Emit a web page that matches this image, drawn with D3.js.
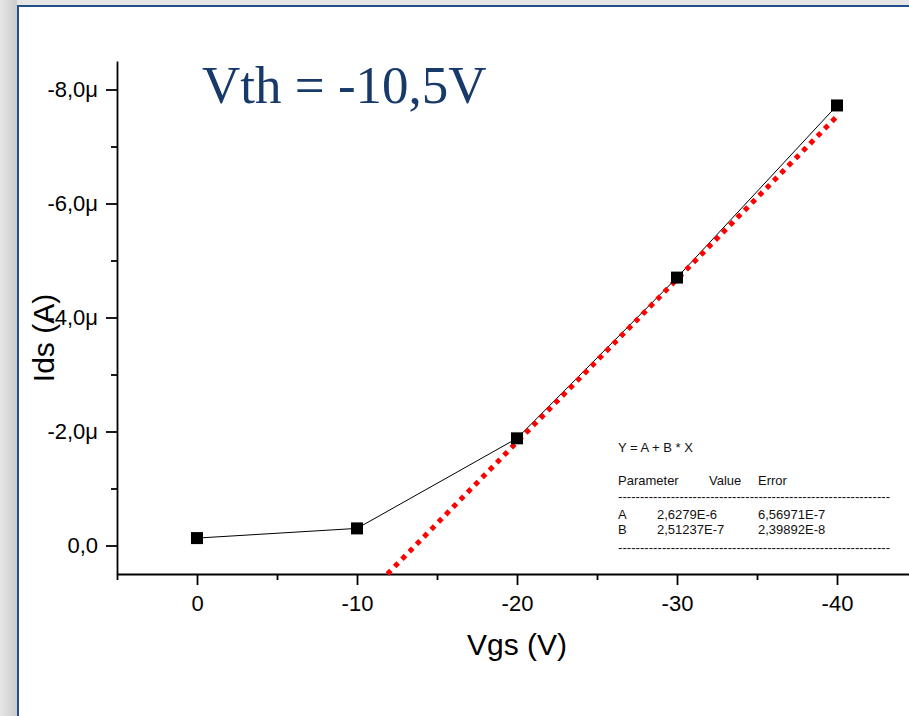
<!DOCTYPE html>
<html>
<head>
<meta charset="utf-8">
<script src="https://cdn.jsdelivr.net/npm/d3@7"></script>
<style>
body{margin:0;padding:0;overflow:hidden;background:#fff;}
</style>
</head>
<body>
<div id="chart"></div>
<script>
// mesures Ids(Vgs)
var vgs = [0, -10, -20, -30, -40];
var ids = [-0.13e-6, -0.30e-6, -1.88e-6, -4.70e-6, -7.72e-6];
// droite de fit (pointillés rouges)
var fitVgs = [-11.9, -40];
var fitIds = [0.5e-6, -7.53e-6];
// axes
var xTicks = [0, -10, -20, -30, -40];
var xMinor = [5, -5, -15, -25, -35, -45];
var yTicks = [0, -2e-6, -4e-6, -6e-6, -8e-6];
var yTickLabels = ["0,0", "-2,0\u03bc", "-4,0\u03bc", "-6,0\u03bc", "-8,0\u03bc"];
var yMinor = [-1e-6, -3e-6, -5e-6, -7e-6];
// tableau du fit
var fitEquation = "Y = A + B * X";
var fitHeader = ["Parameter", "Value", "Error"];
var fitRows = [["A", "2,6279E-6", "6,56971E-7"], ["B", "2,51237E-7", "2,39892E-8"]];
var title = "Vth = -10,5V";

var W = 909, H = 716;

var svg = d3.select("#chart").append("svg")
    .attr("width", W).attr("height", H)
    .style("display", "block");

// cadre type diapo
var defs = svg.append("defs");
var gl = defs.append("linearGradient").attr("id", "gleft").attr("x1", 0).attr("x2", 1).attr("y1", 0).attr("y2", 0);
gl.append("stop").attr("offset", 0).attr("stop-color", "#e6e6e6");
gl.append("stop").attr("offset", 1).attr("stop-color", "#cbcbcb");

svg.append("rect").attr("x", 0).attr("y", 0).attr("width", W).attr("height", H).attr("fill", "#e6e6e6");
svg.append("rect").attr("x", 0).attr("y", 0).attr("width", 17).attr("height", H).attr("fill", "url(#gleft)");
svg.append("rect").attr("x", 17).attr("y", 5).attr("width", W).attr("height", H).attr("fill", "#22508c");
svg.append("rect").attr("x", 19).attr("y", 7).attr("width", W).attr("height", H).attr("fill", "#ffffff");

var x = d3.scaleLinear().domain([5, -45]).range([117, 917]);
var y = d3.scaleLinear().domain([0.5e-6, -8.5e-6]).range([574, 61]);

var font = "Arial, 'Liberation Sans', sans-serif";

// axe x
svg.append("g").attr("transform", "translate(0," + y.range()[0] + ")")
    .call(d3.axisBottom(x).tickValues(xTicks).tickSize(11).tickSizeOuter(0).tickPadding(10)
        .tickFormat(function(d) { return String(d); }));
svg.append("g").attr("transform", "translate(0," + y.range()[0] + ")")
    .call(d3.axisBottom(x).tickValues(xMinor).tickSize(6).tickFormat(""))
    .call(function(g) { g.select(".domain").remove(); });

// axe y
svg.append("g").attr("transform", "translate(" + x.range()[0] + ",0)")
    .call(d3.axisLeft(y).tickValues(yTicks).tickSize(11).tickSizeOuter(0).tickPadding(8)
        .tickFormat(function(d, i) { return yTickLabels[i]; }));
svg.append("g").attr("transform", "translate(" + x.range()[0] + ",0)")
    .call(d3.axisLeft(y).tickValues(yMinor).tickSize(6).tickFormat(""))
    .call(function(g) { g.select(".domain").remove(); });

svg.selectAll(".domain, .tick line").attr("stroke", "#000").attr("stroke-width", 1.8);
svg.selectAll(".tick text").attr("fill", "#000").style("font-family", font).style("font-size", "22px");

// titres des axes
svg.append("text").attr("x", 517).attr("y", 655).attr("text-anchor", "middle")
    .style("font-family", font).style("font-size", "30px").text("Vgs (V)");
svg.append("text").attr("transform", "translate(54,338) rotate(-90)").attr("text-anchor", "middle")
    .style("font-family", font).style("font-size", "30px").text("Ids (A)");

// droite de fit
var pts = vgs.map(function(d, i) { return {v: d, i: ids[i]}; });
var fit = fitVgs.map(function(d, i) { return {v: d, i: fitIds[i]}; });
var line = d3.line().x(function(d) { return x(d.v); }).y(function(d) { return y(d.i); });

svg.append("path").datum(pts).attr("d", line)
    .attr("fill", "none").attr("stroke", "#000").attr("stroke-width", 1);

svg.append("path").datum(fit).attr("d", line)
    .attr("fill", "none").attr("stroke", "#ff0000").attr("stroke-width", 5)
    .attr("stroke-dasharray", "5 5.4");

svg.append("g").selectAll("rect").data(pts).enter().append("rect")
    .attr("x", function(d) { return x(d.v) - 6; })
    .attr("y", function(d) { return y(d.i) - 6; })
    .attr("width", 12).attr("height", 12)
    .attr("fill", "#000");

// Vth
svg.append("text").attr("x", 202).attr("y", 103)
    .style("font-family", "'Times New Roman', 'Liberation Serif', serif")
    .style("font-size", "53px").attr("fill", "#173a6b").text(title);

// tableau des paramètres
var tb = svg.append("g").style("font-family", font).style("font-size", "13px").attr("fill", "#111");
tb.append("text").attr("x", 618).attr("y", 452).text(fitEquation);
var hx = [618, 709, 758];
tb.selectAll(".hd").data(fitHeader).enter().append("text").attr("class", "hd")
    .attr("x", function(d, i) { return hx[i]; }).attr("y", 485).text(function(d) { return d; });
var cx = [618, 657, 758];
fitRows.forEach(function(r, j) {
    tb.selectAll(".r" + j).data(r).enter().append("text").attr("class", "r" + j)
        .attr("x", function(d, i) { return cx[i]; }).attr("y", 519 + j * 15)
        .text(function(d) { return d; });
});
[501, 552].forEach(function(yy) {
    tb.append("text").attr("x", 618).attr("y", yy)
        .attr("textLength", 272).attr("lengthAdjust", "spacing")
        .text(d3.range(62).map(function() { return "-"; }).join(""));
});
</script>
</body>
</html>
